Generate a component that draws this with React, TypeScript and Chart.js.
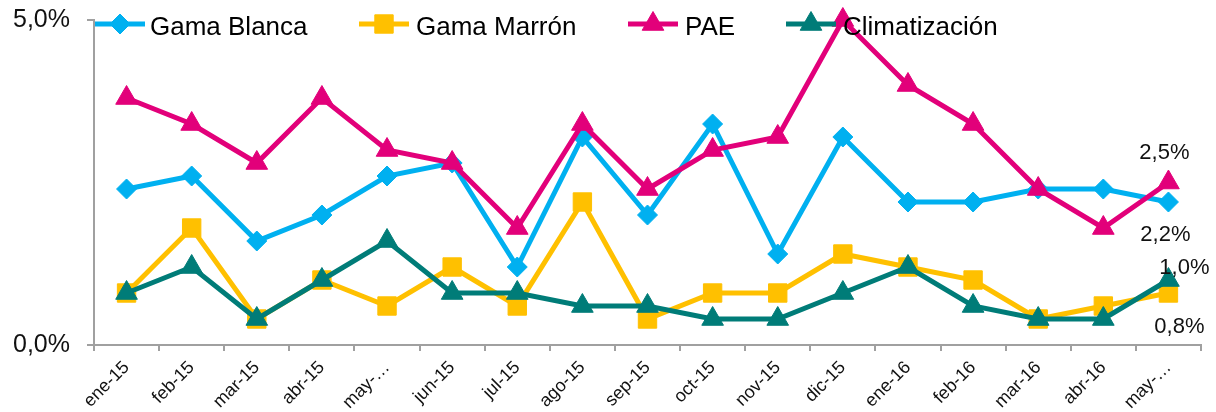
import React, { useEffect, useRef } from "react";
import { Chart, registerables } from "chart.js";
import { drawPoint } from "chart.js/helpers";
Chart.register(...registerables);

const categories = ["ene-15", "feb-15", "mar-15", "abr-15", "may-…", "jun-15", "jul-15", "ago-15", "sep-15", "oct-15", "nov-15", "dic-15", "ene-16", "feb-16", "mar-16", "abr-16", "may-…"];
const gamaBlanca = [2.4, 2.6, 1.6, 2.0, 2.6, 2.8, 1.2, 3.2, 2.0, 3.4, 1.4, 3.2, 2.2, 2.2, 2.4, 2.4, 2.2];
const gamaMarron = [0.8, 1.8, 0.4, 1.0, 0.6, 1.2, 0.6, 2.2, 0.4, 0.8, 0.8, 1.4, 1.2, 1.0, 0.4, 0.6, 0.8];
const pae = [3.8, 3.4, 2.8, 3.8, 3.0, 2.8, 1.8, 3.4, 2.4, 3.0, 3.2, 5.0, 4.0, 3.4, 2.4, 1.8, 2.5];
const climatizacion = [0.8, 1.2, 0.4, 1.0, 1.6, 0.8, 0.8, 0.6, 0.6, 0.4, 0.4, 0.8, 1.2, 0.6, 0.4, 0.4, 1.0];
const seriesNames = ["Gama Blanca", "Gama Marrón", "PAE", "Climatización"];
const yTickValues = [0, 5];

const colors = ["#00B0F0", "#FFC000", "#E2007A", "#007C78"];
const styles = ["rectRot", "rect", "triangle", "triangle"];
const radii = [10, 13, 12.5, 12.5];

const fmt = (v: number) => v.toFixed(1).replace(".", ",") + "%";

const legendPos = [
  { x: 95, tx: 150 },
  { x: 359, tx: 416 },
  { x: 628, tx: 685 },
  { x: 786, tx: 843 },
];

const endLabels = [
  { ds: 2, dx: -4, dy: -30 },
  { ds: 0, dx: -3, dy: 33 },
  { ds: 3, dx: 16, dy: -12 },
  { ds: 1, dx: 11, dy: 34 },
];

const customPlugin = {
  id: "custom",
  afterDraw(chart: any) {
    const ctx = chart.ctx;
    ctx.save();
    ctx.font = '22px "Liberation Sans", Arial, sans-serif';
    ctx.fillStyle = "#111";
    ctx.textAlign = "center";
    ctx.textBaseline = "middle";
    endLabels.forEach((l) => {
      const meta = chart.getDatasetMeta(l.ds);
      const pt = meta.data[meta.data.length - 1];
      const v = chart.data.datasets[l.ds].data[meta.data.length - 1];
      ctx.fillText(fmt(v), pt.x + l.dx, pt.y + l.dy);
    });
    const y = 24;
    chart.data.datasets.forEach((ds: any, i: number) => {
      const p = legendPos[i];
      ctx.strokeStyle = ds.borderColor;
      ctx.lineWidth = 5;
      ctx.beginPath();
      ctx.moveTo(p.x, y);
      ctx.lineTo(p.x + 50, y);
      ctx.stroke();
      ctx.fillStyle = ds.borderColor;
      ctx.strokeStyle = ds.borderColor;
      ctx.lineWidth = 1;
      drawPoint(ctx, { pointStyle: ds.pointStyle, radius: ds.pointRadius, rotation: 0, borderWidth: 1 }, p.x + 25, y);
      ctx.fillStyle = "#000";
      ctx.font = '26px "Liberation Sans", Arial, sans-serif';
      ctx.textAlign = "left";
      ctx.textBaseline = "alphabetic";
      ctx.fillText(seriesNames[i], p.tx, 35);
    });
    ctx.restore();
  },
};

export default function App() {
  const ref = useRef<HTMLCanvasElement>(null);
  useEffect(() => {
    document.body.style.margin = "0";
    const all = [gamaBlanca, gamaMarron, pae, climatizacion];
    const chart = new Chart(ref.current!, {
      type: "line",
      data: {
        labels: categories,
        datasets: all.map((d, i) => ({
          label: seriesNames[i],
          data: d,
          borderColor: colors[i],
          backgroundColor: colors[i],
          pointBackgroundColor: colors[i],
          pointBorderColor: colors[i],
          pointStyle: styles[i] as any,
          pointRadius: radii[i],
          pointBorderWidth: 1,
          borderWidth: 5,
          tension: 0,
          clip: false as any,
          order: 4 - i,
        })),
      },
      options: {
        responsive: false,
        animation: false,
        layout: { padding: { top: 20, right: 15, left: 0, bottom: 0 } },
        plugins: { legend: { display: false }, tooltip: { enabled: false } },
        scales: {
          x: {
            offset: true,
            grid: { display: true, drawOnChartArea: false, drawTicks: true, tickLength: 6, offset: true, color: "#a0a0a0", lineWidth: 2 },
            border: { color: "#a0a0a0", width: 2 },
            ticks: {
              autoSkip: false,
              maxRotation: 45,
              minRotation: 45,
              color: "#111",
              padding: 6,
              font: { family: '"Liberation Sans", Arial, sans-serif', size: 18 },
            },
            afterFit: (s: any) => { s.height = 67; s.paddingLeft = 0; s.paddingRight = 0; },
          },
          y: {
            min: 0,
            max: 5,
            afterBuildTicks: (s: any) => { s.ticks = yTickValues.map((v) => ({ value: v })); },
            grid: { display: true, drawOnChartArea: false, drawTicks: true, tickLength: 7, color: "#a0a0a0", lineWidth: 2 },
            border: { color: "#a0a0a0", width: 2 },
            ticks: {
              color: "#111",
              padding: 17,
              font: { family: '"Liberation Sans", Arial, sans-serif', size: 25 },
              callback: (v: any) => fmt(Number(v)),
            },
            afterFit: (s: any) => { s.width = 94; s.paddingTop = 0; s.paddingBottom = 0; },
          },
        },
      },
      plugins: [customPlugin],
    });
    return () => chart.destroy();
  }, []);
  return (
    <div style={{ width: 1216, height: 412, position: "relative" }}>
      <canvas ref={ref} width={1216} height={412} style={{ display: "block" }} />
    </div>
  );
}
